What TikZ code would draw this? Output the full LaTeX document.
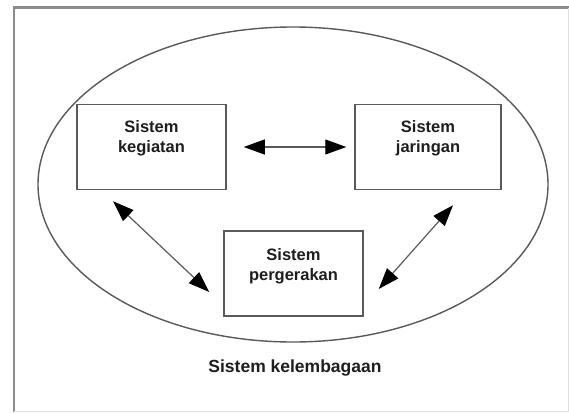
\documentclass[tikz,border=0pt]{standalone}
\usepackage{fontspec}
\setmainfont{Liberation Sans}
\usetikzlibrary{arrows.meta,shapes.geometric}
\definecolor{linegray}{HTML}{5A5A5A}
\definecolor{txtgray}{HTML}{1E1E1E}
\tikzset{
  sysbox/.style={draw=linegray, line width=1.5pt, rectangle, inner sep=0pt},
  systxt/.style={font=\fontsize{16.5}{20}\selectfont\bfseries, text=txtgray, align=center, inner sep=0pt},
  arr/.style={draw=linegray, line width=1.2pt, {Triangle[length=21pt,width=15pt,color=black]}-{Triangle[length=21pt,width=15pt,color=black]}},
}
\begin{document}
\begin{tikzpicture}[x=1pt,y=-1pt]
\useasboundingbox (0,0) rectangle (569,412);
\fill[white] (0,0) rectangle (569,412);
% frame
\draw[color=gray!90, line width=2.5pt] (14,412) -- (14,7.5) -- (569,7.5);
\draw[color=gray!25, line width=1pt] (568,8) -- (568,411) -- (14,411);
% institutional ellipse
\node[ellipse, draw=linegray, line width=1.4pt, minimum width=510pt, minimum height=315pt, inner sep=0pt] (inst) at (293,184.5) {};
% boxes
\node[sysbox, minimum width=149pt, minimum height=85pt] (keg) at (151.5,147) {};
\node[sysbox, minimum width=146pt, minimum height=85pt] (jar) at (428,147) {};
\node[sysbox, minimum width=139pt, minimum height=85pt] (perg) at (293.5,273.5) {};
% texts
\node[systxt, anchor=north] (kegt) at (151.5,120) {Sistem\\kegiatan};
\node[systxt, anchor=north] (jart) at (428,120) {Sistem\\jaringan};
\node[systxt, anchor=north] (pergt) at (293.5,248) {Sistem\\pergerakan};
\node[systxt, font=\fontsize{17.5}{20}\selectfont\bfseries, anchor=base] (instt) at (295,372) {Sistem kelembagaan};
% arrows
\draw[arr] ([xshift=17pt]keg.east) -- ([xshift=-8pt]jar.west);
\draw[arr] ([shift={(-38.5,11)}]keg.south) -- ([shift={(-14,18.5)}]perg.west);
\draw[arr] ([shift={(25,15)}]jar.south) -- ([shift={(15,15.5)}]perg.east);
\end{tikzpicture}
\end{document}
